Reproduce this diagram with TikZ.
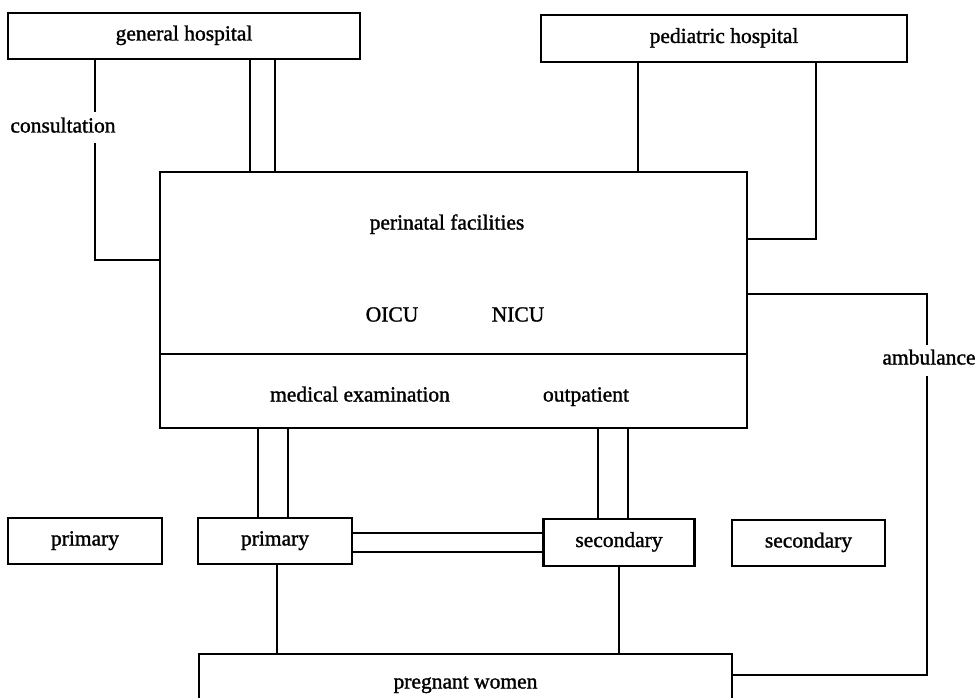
\documentclass[tikz,border=0pt]{standalone}
\usepackage{fontspec}
\setmainfont{Liberation Serif}[BoldFont={Liberation Serif}, BoldFeatures={FakeBold=1.3}]
\usetikzlibrary{calc}
\tikzset{
  txt/.style={font=\fontsize{21.5}{25}\selectfont\bfseries, text height=14pt, text depth=5pt},
  box/.style={draw, line width=2.2pt, rectangle, inner sep=0pt, txt},
  lbl/.style={inner sep=0pt, txt},
  cut/.style={fill=white, inner xsep=1pt, inner ysep=6pt, txt},
  link/.style={line width=2.2pt}
}
\begin{document}
\begin{tikzpicture}[x=1pt,y=-1pt]
\useasboundingbox (0,0) rectangle (975,698);
\clip (0,0) rectangle (975,698);
% boxes
\node[box, minimum width=352pt, minimum height=46pt] (gh) at (184,36) {general hospital};
\node[box, minimum width=366pt, minimum height=47pt] (ph) at (724,38.5) {pediatric hospital};
\node[box, minimum width=587pt, minimum height=256pt] (peri) at (453.5,300) {};
\node[lbl] (pf) at (447,225) {perinatal facilities};
\node[lbl] (oicu) at (392,317) {OICU};
\node[lbl] (nicu) at (518,317) {NICU};
\node[lbl] (me) at (360,397) {medical examination};
\node[lbl] (op) at (586,397) {outpatient};
\node[box, minimum width=154pt, minimum height=46pt] (priml) at (85,541) {primary};
\node[box, minimum width=154pt, minimum height=46pt] (prim) at (275,541) {primary};
\node[box, minimum width=151pt, minimum height=47pt] (sec) at (619,542.5) {secondary};
\node[box, minimum width=153pt, minimum height=46pt] (secr) at (808.5,543) {secondary};
\node[box, minimum width=533pt, minimum height=60pt] (preg) at (465.5,684) {pregnant women};
% divider
\draw[link] (peri.west |- 0,354) -- (peri.east |- 0,354);
% general hospital links
\draw[link] (95,0 |- gh.south) |- (peri.west |- 0,260);
\node[cut] (cons) at (63,128) {consultation};
\draw[link] (250,0 |- gh.south) -- (250,0 |- peri.north);
\draw[link] (275,0 |- gh.south) -- (275,0 |- peri.north);
% pediatric hospital links
\draw[link] (638,0 |- ph.south) -- (638,0 |- peri.north);
\draw[link] (816,0 |- ph.south) |- (peri.east |- 0,239);
% ambulance
\draw[link] (peri.east |- 0,294) -| (927,675) -- (preg.east |- 0,675);
\node[cut] (amb) at (929,360) {ambulance};
% perinatal to primary / secondary
\draw[link] (258,0 |- peri.south) -- (258,0 |- prim.north);
\draw[link] (288,0 |- peri.south) -- (288,0 |- prim.north);
\draw[link] (598,0 |- peri.south) -- (598,0 |- sec.north);
\draw[link] (628,0 |- peri.south) -- (628,0 |- sec.north);
% primary - secondary
\draw[link] (prim.east |- 0,533) -- (sec.west |- 0,533);
\draw[link] (prim.east |- 0,552) -- (sec.west |- 0,552);
% to pregnant women
\draw[link] (277,0 |- prim.south) -- (277,0 |- preg.north);
\draw[link] (619,0 |- sec.south) -- (619,0 |- preg.north);
\end{tikzpicture}
\end{document}
